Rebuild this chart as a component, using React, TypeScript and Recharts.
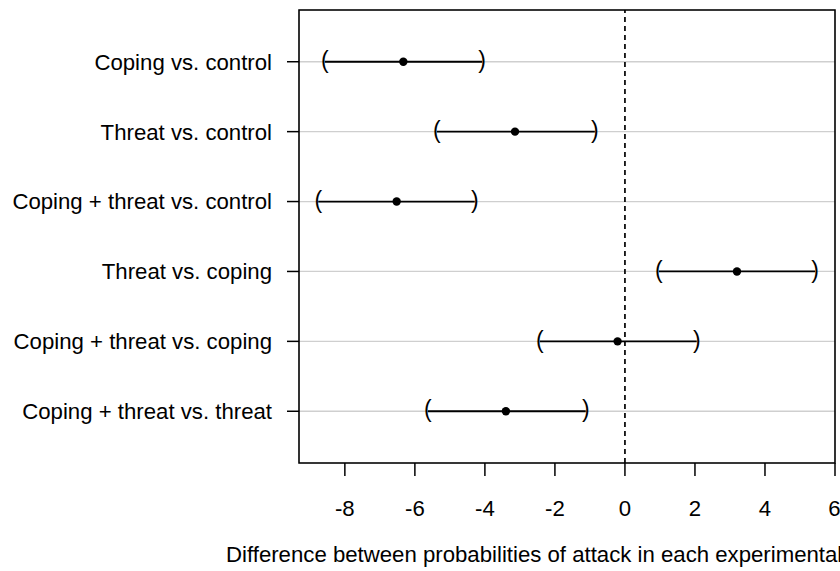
import React from "react";
import {
  ScatterChart,
  Scatter,
  XAxis,
  YAxis,
  CartesianGrid,
  ReferenceLine,
  ReferenceArea,
} from "recharts";

const categories = [
  "Coping vs. control",
  "Threat vs. control",
  "Coping + threat vs. control",
  "Threat vs. coping",
  "Coping + threat vs. coping",
  "Coping + threat vs. threat",
];
const estimates = [-6.33, -3.14, -6.52, 3.2, -0.21, -3.4];
const lowerBounds = [-8.57, -5.37, -8.76, 0.97, -2.43, -5.63];
const upperBounds = [-4.08, -0.86, -4.29, 5.43, 2.05, -1.12];
const xTicks = [-8, -6, -4, -2, 0, 2, 4, 6];
const xDomain: [number, number] = [-9.31, 6.0];
const yDomain: [number, number] = [0.26, 6.74];
const xTitle = "Difference between probabilities of attack in each experimental group";

const FONT = "'Liberation Sans', Arial, Helvetica, sans-serif";
const FS = 22.2;

const rows = categories.map((c, i) => ({ y: i + 1, name: c }));
const pointData = estimates.map((v, i) => ({ x: v, y: i + 1 }));
const lowData = lowerBounds.map((v, i) => ({ x: v, y: i + 1 }));
const highData = upperBounds.map((v, i) => ({ x: v, y: i + 1 }));

const Paren = (ch: string) => (props: any) => {
  const { cx, cy } = props;
  return (
    <text
      x={cx}
      y={cy}
      dy="0.27em"
      textAnchor="middle"
      fontSize={23}
      fontFamily={FONT}
      fill="#000"
    >
      {ch}
    </text>
  );
};

const Dot = (props: any) => {
  const { cx, cy } = props;
  return <circle cx={cx} cy={cy} r={4.2} fill="#000" />;
};

const TitleLabel = (props: any) => {
  const { viewBox } = props;
  return (
    <text
      x={viewBox.x - 73}
      y={562}
      fontSize={FS}
      fontFamily={FONT}
      fill="#000"
      textAnchor="start"
    >
      {xTitle}
    </text>
  );
};

export default function App() {
  return (
    <div style={{ position: "absolute", left: 0, top: 0, background: "#fff" }}>
      <ScatterChart
        width={840}
        height={571}
        margin={{ top: 10, right: 5, bottom: 0, left: 0 }}
      >
        <CartesianGrid
          horizontal={true}
          vertical={false}
          stroke="#cfcfcf"
          strokeWidth={1.3}
        />
        <XAxis
          type="number"
          dataKey="x"
          domain={xDomain}
          ticks={xTicks}
          allowDataOverflow
          height={108}
          axisLine={false}
          tickLine={{ stroke: "#000", strokeWidth: 1.5 }}
          tickSize={13}
          tickMargin={24}
          tick={{ fill: "#000", fontSize: FS, fontFamily: FONT }}
          label={<TitleLabel />}
        />
        <YAxis
          type="number"
          dataKey="y"
          domain={yDomain}
          ticks={rows.map((r) => r.y)}
          tickFormatter={(v: number) => categories[v - 1] ?? ""}
          reversed
          allowDataOverflow
          width={299}
          axisLine={false}
          tickLine={{ stroke: "#000", strokeWidth: 1.5 }}
          tickSize={12}
          tickMargin={15}
          tick={{ fill: "#000", fontSize: FS, fontFamily: FONT }}
        />
        <ReferenceLine
          x={0}
          stroke="#000"
          strokeWidth={1.7}
          strokeDasharray="5 4"
        />
        {rows.map((r, i) => (
          <ReferenceLine
            key={r.name}
            segment={[
              { x: lowerBounds[i], y: r.y },
              { x: upperBounds[i], y: r.y },
            ]}
            stroke="#000"
            strokeWidth={1.8}
          />
        ))}
        <ReferenceArea
          x1={xDomain[0]}
          x2={xDomain[1]}
          y1={yDomain[0]}
          y2={yDomain[1]}
          fill="none"
          fillOpacity={0}
          stroke="#000"
          strokeWidth={1.6}
        />
        <Scatter data={lowData} shape={Paren("(")} isAnimationActive={false} />
        <Scatter data={highData} shape={Paren(")")} isAnimationActive={false} />
        <Scatter data={pointData} shape={Dot} isAnimationActive={false} />
      </ScatterChart>
    </div>
  );
}
